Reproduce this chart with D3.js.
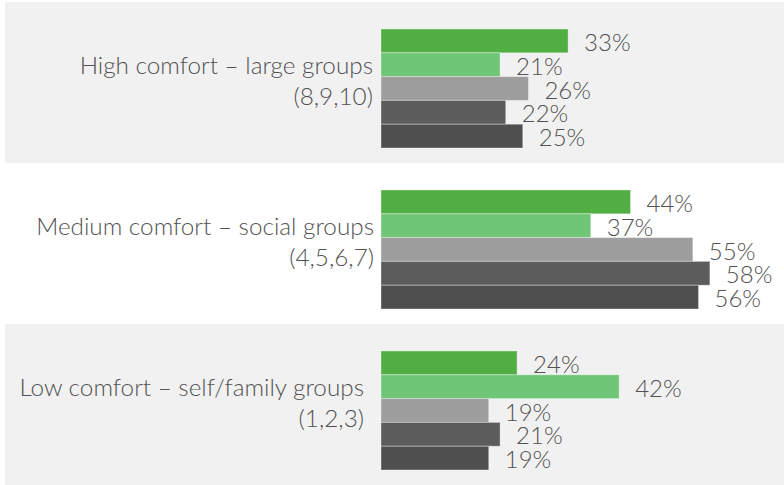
<!DOCTYPE html>
<html>
<head>
<meta charset="utf-8">
<script src="https://cdn.jsdelivr.net/npm/d3@7"></script>
<style>
  html, body { margin: 0; padding: 0; background: #fff; }
  svg { display: block; }
</style>
</head>
<body>
<div id="chart"></div>
<script>
// comfort groups, top to bottom
const groups = ["High comfort", "Medium comfort", "Low comfort"]
const groupLine1 = ["High comfort \u2013 large groups", "Medium comfort \u2013 social groups", "Low comfort \u2013 self/family groups"]
const groupLine2 = ["(8,9,10)", "(4,5,6,7)", "(1,2,3)"]

// five series per group (no legend in the source, so generic keys)
const series = ["s1", "s2", "s3", "s4", "s5"]
const seriesColors = ["#51ae43", "#70c677", "#9d9d9d", "#5c5c5c", "#4f4f4f"]

// percent values, one array per group, in series order
const highValues = [33, 21, 26, 22, 25]
const mediumValues = [44, 37, 55, 58, 56]
const lowValues = [24, 42, 19, 21, 19]

const width = 784
const height = 485
const margin = ({top: 2, right: 0, bottom: 0, left: 5})
const barLeft = 381
const labelRight = [373, 374, 364] // right edge of the group labels

const values = [highValues, mediumValues, lowValues]
const data = groups.map((g, i) => ({
    group: g,
    line1: groupLine1[i],
    line2: groupLine2[i],
    bars: series.map((s, j) => ({key: s, value: values[i][j]}))
}))

const svg = d3.select("#chart").append("svg")
    .attr("width", width)
    .attr("height", height)
    .attr("viewBox", [0, 0, width, height])

let y = d3.scaleBand()
    .domain(groups)
    .range([margin.top, height - margin.bottom])
    .paddingInner(0)

let yInner = d3.scaleBand()
    .domain(series)
    .range([27, 146])
    .padding(0)

let x = d3.scaleLinear()
    .domain([0, 100])
    .range([barLeft, barLeft + 567])

let color = d3.scaleOrdinal()
    .domain(series)
    .range(seriesColors)

const fontFamily = "Lato, 'Open Sans', sans-serif"
const textColor = "#525252"

const group = svg.selectAll("g.group")
    .data(data)
    .join("g")
    .attr("class", "group")
    .attr("transform", d => `translate(0,${y(d.group)})`)

// light grey panels behind the first and last groups
group.filter((d, i) => i !== 1)
    .append("rect")
    .attr("x", margin.left)
    .attr("y", 0)
    .attr("width", width - margin.left - margin.right)
    .attr("height", y.bandwidth())
    .attr("fill", "#f1f1f1")

group.selectAll("rect.bar")
    .data(d => d.bars)
    .join("rect")
    .attr("class", "bar")
    .attr("x", x(0))
    .attr("y", d => yInner(d.key))
    .attr("width", d => x(d.value) - x(0))
    .attr("height", yInner.bandwidth())
    .attr("fill", d => color(d.key))
    .attr("stroke", "rgba(255,255,255,0.35)")
    .attr("stroke-width", 1)

group.selectAll("text.value")
    .data(d => d.bars)
    .join("text")
    .attr("class", "value")
    .attr("x", d => x(d.value) + 16)
    .attr("y", d => yInner(d.key) + yInner.bandwidth() / 2 + 10)
    .attr("font-family", fontFamily)
    .attr("font-weight", 300)
    .attr("font-size", 24)
    .attr("fill", textColor)
    .text(d => d.value + "%")

const mid = (yInner.range()[0] + yInner.range()[1]) / 2

const label = group.append("text")
    .attr("text-anchor", "end")
    .attr("font-family", fontFamily)
    .attr("font-weight", 300)
    .attr("font-size", 24.3)
    .attr("fill", textColor)

label.append("tspan")
    .attr("x", (d, i) => labelRight[i])
    .attr("y", mid - 15)
    .text(d => d.line1)

label.append("tspan")
    .attr("x", (d, i) => labelRight[i])
    .attr("y", mid + 16)
    .text(d => d.line2)
</script>
</body>
</html>
